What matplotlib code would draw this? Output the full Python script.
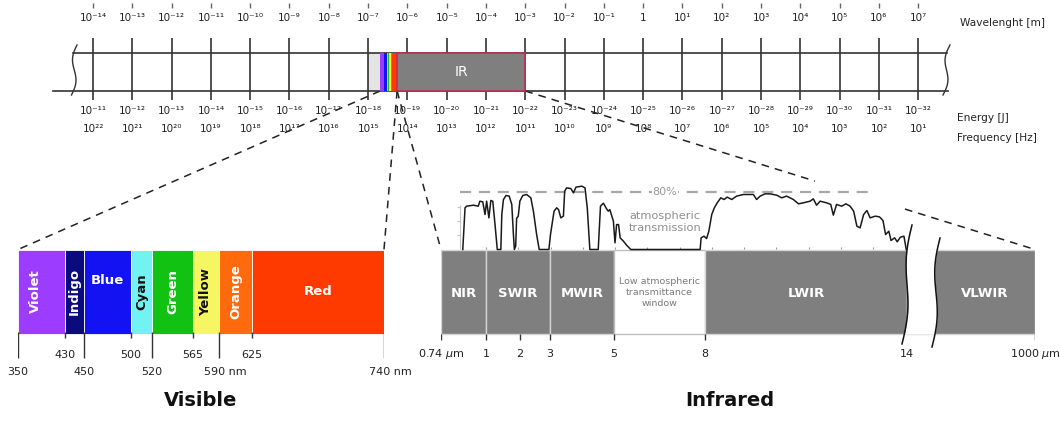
import numpy as np
import matplotlib.pyplot as plt
from matplotlib.patches import Rectangle

plt.rcParams['font.family'] = ['DejaVu Sans']

# --------------------
# Data
# --------------------
# top scale: wavelength, energy and frequency exponents (one per decade)
wl_exp = list(range(-14, 8))
energy_exp = list(range(-11, -33, -1))
freq_exp = list(range(22, 0, -1))

# shaded parts of the top bar (wavelength, m)
uv_span = (1e-7, 2.02e-7)
vis_span = (2.02e-7, 5.47e-7)
ir_span = (5.47e-7, 1e-3)

# visible bands (nm)
vis_names = ["Violet", "Indigo", "Blue", "Cyan", "Green", "Yellow", "Orange", "Red"]
vis_edges = [350, 430, 450, 500, 520, 565, 590, 625, 740]
vis_tick_labels = ["350", "430", "450", "500", "520", "565", "590 nm", "625", "740 nm"]
vis_colors = ["#9b3cff", "#0b0b80", "#1212f2", "#72f2f2", "#12c212",
              "#f6f662", "#ff6a0c", "#ff3a00"]
vis_text_colors = ["white", "white", "white", "#111111", "white", "#111111", "white", "white"]
vis_rotation = [90, 90, 0, 90, 90, 90, 90, 0]

# infrared bands (um)
ir_names = ["NIR", "SWIR", "MWIR", "Low atmospheric\ntransmittance\nwindow", "LWIR", "VLWIR"]
ir_edges = [0.74, 1, 3, 5, 8, 14, 1000]
ir_ticks = [0.74, 1, 2, 3, 5, 8, 14, 1000]
ir_tick_labels = ["0.74 $\\mu$m", "1", "2", "3", "5", "8", "14", "1000 $\\mu$m"]

# atmospheric transmission curve (um, %)
tr_um = [0.28, 0.35, 0.40, 0.61, 0.76, 0.81, 0.90, 0.97, 1.02, 1.09, 1.15, 1.21, 1.28,
         1.35, 1.46, 1.49, 1.54, 1.62, 1.72, 1.80, 1.85, 1.88, 1.92, 1.95, 2.00, 2.05,
         2.14, 2.26, 2.39, 2.47, 2.57, 2.65, 2.95, 3.00, 3.11, 3.19, 3.25, 3.32, 3.40,
         3.44, 3.50, 3.63, 3.71, 3.79, 3.97, 4.07, 4.14, 4.22, 4.48, 4.55, 4.64, 4.74,
         4.79, 4.84, 4.95, 5.00, 5.05, 5.11, 5.16, 5.26, 5.36, 5.49, 7.64, 7.67, 7.76,
         7.84, 7.91, 8.00, 8.08, 8.17, 8.28, 8.38, 8.48, 8.62, 8.77, 8.98, 9.29, 9.39,
         9.50, 9.65, 9.81, 10.01, 10.17, 10.32, 10.53, 10.69, 10.84, 11.05, 11.15,
         11.25, 11.36, 11.56, 11.69, 11.77, 11.87, 12.03, 12.16, 12.29, 12.40, 12.50,
         12.60, 12.71, 12.81, 12.91, 13.07, 13.20, 13.31, 13.39, 13.49, 13.56, 13.67,
         13.75, 13.85, 13.96, 14.03]
tr_pct = [0, 58.5, 60.8, 62.2, 60.8, 67.8, 66.9, 49.1, 67.8, 44.4, 68.8, 67.8, 35,
          0, 0, 49, 70, 75.8, 74.9, 63, 21, 0, 4.7, 44, 46.8, 67.8,
          75.8, 77.2, 72.5, 53.8, 21, 0, 0, 21, 53.8, 58.5, 56, 44.4, 46.8,
          81.9, 86.5, 85.6, 79.5, 87.5, 88.9, 86.5, 58.5, 0, 0, 60.8, 65, 57,
          53.8, 56, 39.8, 9.4, 35, 35, 16.4, 11.7, 6, 0, 0, 16.4, 18.7,
          15.4, 25.7, 49.1, 58.5, 65.5, 72.5, 70.2, 73.5, 70.2, 74.9, 77.2, 77.2, 70.2,
          74.9, 78.1, 78.1, 76.3, 72.5, 74.9, 70.2, 64.1, 65.5, 67.8, 71.1,
          62.2, 67.8, 65.5, 63.2, 48.2, 63.2, 60.8, 64.1, 60.8, 53.8, 32.7,
          30.4, 49.1, 54.7, 44.4, 46.8, 45.8, 40.7, 21, 25.7, 12.6, 16.4,
          10.8, 17.3, 18.7, 0]

# --------------------
# Layout (pixels of the 1060x432 picture)
# --------------------
W, H = 1060, 432
DEC_PX, X_E14 = 39.3, 93          # one decade of wavelength, position of 1e-14 m
BAR_TOP, BAR_BOT = 53, 91
BOX_TOP, BOX_BOT = 249.5, 333.5
BOX_MID = (BOX_TOP + BOX_BOT) / 2
VIS_PX = [18, 65, 84, 131, 152, 193, 219, 252, 384]
IR_PX = [441, 486, 520, 550, 614, 705, 907, 1035]
UM_PX, X_1UM = 32.25, 486          # transmission plot: linear in um
PX_PER_PCT = 0.7125
BREAK_GAP = 27
INK = "#222222"
DASH = (0, (5, 4))


def sup10(e):
    if e == 0:
        return "1"
    return "10" + str(e).translate(str.maketrans("-0123456789", "⁻⁰¹²³⁴⁵⁶⁷⁸⁹"))


fig = plt.figure(figsize=(W / 100, H / 100), dpi=100)
fig.patch.set_facecolor("white")


def overlay(rect=(0, 0, 1, 1)):
    a = fig.add_axes(rect)
    a.set_ylim(H, 0)
    a.set_axis_off()
    return a


def to_px(a, x, y):
    return ax.transData.inverted().transform(a.transData.transform((x, y)))


def squiggle_x(y, x_top, y_top, x_bot, y_bot, amp=3.0):
    t = (np.asarray(y) - y_top) / (y_bot - y_top)
    return x_top + (x_bot - x_top) * t - amp * np.sin(2 * np.pi * t)


ax = overlay()
ax.set_xlim(0, W)

# --------------------
# Top bar (log wavelength)
# --------------------
ax_top = overlay()
ax_top.set_xscale("log")
ax_top.set_xlim(10.0 ** (-14 - X_E14 / DEC_PX), 10.0 ** (-14 + (W - X_E14) / DEC_PX))

decades = [10.0 ** e for e in wl_exp]
ax_top.fill_between(uv_span, BAR_TOP, BAR_BOT, color="#e4e4e4", lw=0, zorder=1)
ax_top.vlines(decades, 38, 100, color=INK, lw=1.1, zorder=2)
ax_top.vlines(decades, 3, 8, color="#666666", lw=1, zorder=2)
ax_top.plot([73, 947], [BAR_TOP, BAR_TOP], color="#333333", lw=1.2,
            transform=ax.transData, zorder=2)
ax_top.plot([53, 948], [BAR_BOT, BAR_BOT], color="#333333", lw=1.2,
            transform=ax.transData, zorder=2)

# mini rainbow inside the bar
stripe_edges = 10 ** np.interp(vis_edges, [vis_edges[0], vis_edges[-1]], np.log10(vis_span))
for lo, hi, c in zip(stripe_edges[:-1], stripe_edges[1:], vis_colors):
    ax_top.fill_between([lo, hi], BAR_TOP, BAR_BOT, color=c, lw=0, zorder=3)
ax_top.add_patch(Rectangle((ir_span[0], BAR_TOP), ir_span[1] - ir_span[0], BAR_BOT - BAR_TOP,
                           facecolor="#7f7f7f", edgecolor="#c8284f", lw=1.1, zorder=3))
ax_top.text(np.sqrt(ir_span[0] * ir_span[1]), 72, "IR", color="white", fontsize=10,
            ha="center", va="center", zorder=4)

for x, e, en, fr in zip(decades, wl_exp, energy_exp, freq_exp):
    ax_top.text(x, 18, sup10(e), fontsize=7.5, color=INK, ha="center", va="center")
    ax_top.text(x, 111, sup10(en), fontsize=7.5, color=INK, ha="center", va="center")
    ax_top.text(x, 129, sup10(fr), fontsize=7.5, color=INK, ha="center", va="center")

# breaks at both ends of the bar
yy = np.linspace(45, 95, 40)
ax.plot(squiggle_x(yy, 77, 45, 71.5, 95), yy, color="#333333", lw=1)
ax.plot(squiggle_x(yy, 950, 45, 943, 95), yy, color="#333333", lw=1)

ax.text(960, 23, "Wavelenght [m]", fontsize=7.6, color=INK, va="center")
ax.text(957, 118, "Energy [J]", fontsize=7.6, color=INK, va="center")
ax.text(957, 138, "Frequency [Hz]", fontsize=7.6, color=INK, va="center")

# --------------------
# Visible bands
# --------------------
ax_vis = overlay((VIS_PX[0] / W, 0, (VIS_PX[-1] - VIS_PX[0]) / W, 1))
ax_vis.set_xscale("function", functions=(lambda v: np.interp(v, vis_edges, VIS_PX),
                                         lambda p: np.interp(p, VIS_PX, vis_edges)))
ax_vis.set_xlim(vis_edges[0], vis_edges[-1])
ax_vis.bar(vis_edges[:-1], BOX_BOT - BOX_TOP, width=np.diff(vis_edges), bottom=BOX_TOP,
           align="edge", color=vis_colors, edgecolor="white", lw=0.6)
for i, name in enumerate(vis_names):
    xc = (vis_edges[i] + vis_edges[i + 1]) / 2
    yc = BOX_MID - 11 if name == "Blue" else BOX_MID
    ax_vis.annotate(name, (xc, yc), xytext=(-6 if i == 0 else 0, 0),
                    textcoords="offset pixels", rotation=vis_rotation[i],
                    color=vis_text_colors[i], fontsize=9.5, fontweight="bold",
                    ha="center", va="center")
for i, (x, lab) in enumerate(zip(vis_edges, vis_tick_labels)):
    long_tick = i % 2 == 0
    ax_vis.vlines(x, BOX_BOT - 2, 358 if long_tick else 338, color="#333333", lw=1)
    ax_vis.annotate(lab, (x, 372 if long_tick else 355), xytext=(6 if "nm" in lab else 0, 0),
                    textcoords="offset pixels", fontsize=8, color=INK,
                    ha="center", va="center", annotation_clip=False)

ax.text(201, 400, "Visible", fontsize=14, fontweight="bold", color="#111111",
        ha="center", va="center")

# --------------------
# Infrared bands
# --------------------
ax_ir = overlay((IR_PX[0] / W, 0, (IR_PX[-1] - IR_PX[0]) / W, 1))
ax_ir.set_xscale("function", functions=(lambda v: np.interp(v, ir_ticks, IR_PX),
                                        lambda p: np.interp(p, IR_PX, ir_ticks)))
ax_ir.set_xlim(ir_edges[0], ir_edges[-1])
is_window = ["window" in n for n in ir_names]
ax_ir.bar(ir_edges[:-1], BOX_BOT - BOX_TOP, width=np.diff(ir_edges), bottom=BOX_TOP,
          align="edge", color=["white" if w else "#7f7f7f" for w in is_window],
          edgecolor=["#bdbdbd" if w else "#d4d4d4" for w in is_window], lw=1)
# the 14 um mark is the break line itself
ax_ir.vlines([t for t in ir_ticks if t != 14], BOX_BOT, BOX_BOT + 6, color="#333333", lw=1)
for x, lab in zip(ir_ticks, ir_tick_labels):
    ax_ir.text(x, 354, lab, fontsize=8, color=INK, ha="center", va="center")

ax.text(730, 400, "Infrared", fontsize=14, fontweight="bold", color="#111111",
        ha="center", va="center")

# --------------------
# Atmospheric transmission
# --------------------
ax_tr = overlay()
ax_tr.set_xlim(1 - X_1UM / UM_PX, 1 + (W - X_1UM) / UM_PX)
ax_tr.set_ylim((BOX_TOP - H) / PX_PER_PCT, BOX_TOP / PX_PER_PCT)
ax_tr.vlines(0.2, 0, 62, color="#c4c4c4", lw=0.8)
ax_tr.hlines([20, 40, 60], 0.1, 0.2, color="#c4c4c4", lw=0.8)
ax_tr.vlines(range(1, 14), 0, 4, color="#9a9a9a", lw=0.8)
ax_tr.hlines(80, 0.2, 12.9, colors="#a8a8a8", linestyles=(0, (5, 3.5)), lw=1.6)
ax_tr.text(6.55, 80, "80%", fontsize=8, color="#9a9a9a", ha="center", va="center",
           bbox=dict(facecolor="white", edgecolor="none", pad=0.6))
ax_tr.text(6.55, 39, "atmospheric\ntransmission", fontsize=8.2, color="#8f8f8f",
           ha="center", va="center", linespacing=1.2)
ax_tr.plot(tr_um, tr_pct, color="#1a1a1a", lw=1.1)

# --------------------
# Zoom connectors (dashed)
# --------------------
links = [
    (to_px(ax_top, vis_span[0], BAR_BOT), to_px(ax_vis, vis_edges[0], BOX_TOP)),
    (to_px(ax_top, vis_span[1], BAR_BOT), to_px(ax_vis, vis_edges[-1], BOX_TOP)),
    (to_px(ax_top, ir_span[0], BAR_BOT), to_px(ax_ir, ir_edges[0], BOX_TOP)),
]
for p, q in links:
    ax.plot([p[0], q[0]], [p[1], q[1]], color=INK, lw=1.1, linestyle=DASH)

# the long one is hidden behind the transmission plot
p = to_px(ax_top, ir_span[1], BAR_BOT)
q = to_px(ax_ir, ir_edges[-1], BOX_TOP)
for xa, xb in [(p[0], 815), (905, q[0])]:
    ta, tb = (xa - p[0]) / (q[0] - p[0]), (xb - p[0]) / (q[0] - p[0])
    ax.plot([p[0] + ta * (q[0] - p[0]), p[0] + tb * (q[0] - p[0])],
            [p[1] + ta * (q[1] - p[1]), p[1] + tb * (q[1] - p[1])],
            color=INK, lw=1.1, linestyle=DASH)

# --------------------
# Break between LWIR and VLWIR, band labels on top
# --------------------
ax_fg = overlay()
ax_fg.set_xlim(0, W)
yb = np.linspace(BOX_TOP - 0.5, BOX_BOT + 0.5, 60)
ax_fg.fill_betweenx(yb, squiggle_x(yb, 912, 225, 902, 344),
                    squiggle_x(yb, 940, 238, 932, 347), color="white", lw=0)
y1 = np.linspace(225, 344, 60)
y2 = np.linspace(238, 347, 60)
ax_fg.plot(squiggle_x(y1, 912, 225, 902, 344), y1, color="#111111", lw=1.1)
ax_fg.plot(squiggle_x(y2, 940, 238, 932, 347), y2, color="#111111", lw=1.1)

for i, name in enumerate(ir_names):
    x0 = to_px(ax_ir, ir_edges[i], BOX_MID)[0]
    x1 = to_px(ax_ir, ir_edges[i + 1], BOX_MID)[0]
    if i == len(ir_names) - 1:
        x0 += BREAK_GAP
    if is_window[i]:
        ax_fg.text((x0 + x1) / 2, BOX_MID + 1, name, fontsize=6.8, color="#7a7a7a",
                   ha="center", va="center", linespacing=1.3)
    else:
        ax_fg.text((x0 + x1) / 2, BOX_MID + 2, name, fontsize=9.5, fontweight="bold",
                   color="white", ha="center", va="center")

fig.savefig("out.png", dpi=100, facecolor="white")
